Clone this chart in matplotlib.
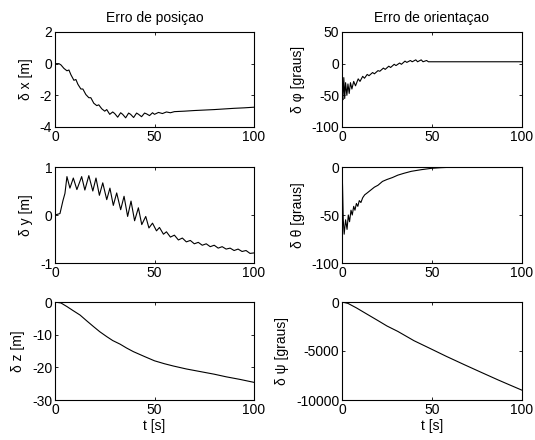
import matplotlib
matplotlib.use("Agg")
import matplotlib.pyplot as plt

plt.rcParams["font.family"] = ["Liberation Sans", "DejaVu Sans"]
plt.rcParams["axes.unicode_minus"] = False

# erro de posição
t_x = [0, 2, 3, 4.5, 6, 7, 8, 9.5, 10.5, 11.5, 13, 14, 15.5, 17, 18, 19.5, 21, 22,
       23.5, 25, 26, 27.5, 29, 30, 31.5, 33, 34, 35.5, 37, 38, 39.5, 41, 42, 43.5,
       45, 46, 47.5, 49, 50, 52, 54, 56, 58, 60, 65, 70, 75, 80, 85, 90, 95, 100]
dx = [0.0, 0.0, -0.08, -0.3, -0.45, -0.4, -0.7, -1.05, -1.0, -1.3, -1.6, -1.6,
      -1.95, -2.15, -2.15, -2.5, -2.65, -2.6, -2.85, -3.0, -2.9, -3.2, -3.05,
      -3.15, -3.38, -3.1, -3.2, -3.42, -3.12, -3.2, -3.4, -3.12, -3.2, -3.35,
      -3.12, -3.17, -3.28, -3.1, -3.2, -3.08, -3.15, -3.05, -3.1, -3.03, -3.0,
      -2.96, -2.93, -2.9, -2.86, -2.82, -2.79, -2.75]

t_y = [0, 2.5, 4, 5, 6, 7.5, 9.2, 11, 13.4, 15, 17, 19, 20.6, 22.3, 24, 26,
       27.6, 29.3, 31, 33, 34.7, 36.5, 38.2, 40, 41.9, 43.6, 45.6, 47.2, 49,
       51, 52.5, 54.5, 56, 58, 60, 62, 64, 66, 68, 70, 72, 74, 76, 78, 80, 82,
       84, 86, 88, 90, 92, 94, 96, 98, 100]
dy = [0.0, 0.03, 0.3, 0.45, 0.8, 0.56, 0.77, 0.53, 0.8, 0.52, 0.82, 0.5, 0.77,
      0.41, 0.67, 0.32, 0.56, 0.2, 0.46, 0.11, 0.39, -0.03, 0.29, -0.12, 0.15,
      -0.2, -0.03, -0.27, -0.17, -0.33, -0.26, -0.4, -0.35, -0.46, -0.42, -0.52,
      -0.48, -0.56, -0.53, -0.6, -0.57, -0.63, -0.6, -0.66, -0.63, -0.69, -0.66,
      -0.71, -0.69, -0.74, -0.71, -0.76, -0.74, -0.8, -0.79]

t_z = [0, 3, 6, 9, 12.6, 16, 19.3, 22.5, 26, 29, 32.7, 36, 39.4, 45, 50, 55,
       59.5, 66, 73, 80, 86, 93, 100]
dz = [0.0, -0.3, -1.4, -2.6, -4.0, -5.8, -7.5, -9.1, -10.6, -11.8, -12.9, -14.1,
      -15.2, -16.7, -18.0, -18.9, -19.6, -20.5, -21.3, -22.1, -22.9, -23.7, -24.6]

# erro de orientação
t_phi = [0, 0.5, 1, 1.5, 2, 2.7, 3.3, 4, 4.7, 5.5, 6.5, 7.5, 9, 10, 11.5, 12.5,
         14, 15, 17, 18, 20, 21, 23, 24, 26, 27, 29, 30, 32, 33, 35, 36, 38, 39,
         41, 42, 44, 45, 47, 48, 60, 80, 100]
dphi = [-50, -57, -22, -55, -30, -50, -32, -47, -30, -40, -28, -35, -24, -28,
        -20, -23, -17, -19, -14, -16, -11, -12, -7, -9, -4, -6, -1, -3, 1, -1, 4,
        2, 5, 3, 6, 3, 6, 3, 5, 3, 3, 3, 3]

t_theta = [0, 0.3, 0.7, 1.2, 2, 2.8, 3.5, 4.2, 5, 5.7, 6.5, 7.2, 8, 8.8, 9.6,
           10.5, 11.5, 12.6, 14, 16, 18, 20, 22.5, 25, 28, 31, 34.5, 38.5, 44,
           49.6, 55, 60, 70, 80, 100]
dtheta = [0, -20, -55, -70, -55, -65, -50, -57, -45, -50, -41, -45, -38, -41,
          -35, -37, -32, -29, -27, -24, -21, -19, -15, -13, -11, -8.5, -6.5,
          -4.5, -2.8, -1.4, -0.7, -0.3, -0.1, 0, 0]

t_psi = [0, 3.3, 8, 12.6, 20, 25, 31, 40, 49.6, 58, 68, 77, 86.7, 93, 100]
dpsi = [0, -140, -600, -1100, -1900, -2450, -3000, -3950, -4800, -5550, -6400,
        -7150, -7950, -8450, -9000]

# posições dos eixos em pixels (esq, topo, dir, base)
W, H = 535, 440
cols = [(55, 254), (342, 522)]
rows = [(32, 127), (167, 263), (302, 400)]
FS = 10

series = [
    [(t_x, dx, "δ x [m]", (-4, 2), [-4, -2, 0, 2]),
     (t_y, dy, "δ y [m]", (-1, 1), [-1, 0, 1]),
     (t_z, dz, "δ z [m]", (-30, 0), [-30, -20, -10, 0])],
    [(t_phi, dphi, "δ φ [graus]", (-100, 50), [-100, -50, 0, 50]),
     (t_theta, dtheta, "δ θ [graus]", (-100, 0), [-100, -50, 0]),
     (t_psi, dpsi, "δ ψ [graus]", (-10000, 0), [-10000, -5000, 0])],
]
titles = ["Erro de posiçao", "Erro de orientaçao"]

fig = plt.figure(figsize=(W / 100, H / 100), dpi=100)
for c, (x0, x1) in enumerate(cols):
    for r, (y0, y1) in enumerate(rows):
        t, v, lab, ylim, yt = series[c][r]
        ax = fig.add_axes([x0 / W, 1 - y1 / H, (x1 - x0) / W, (y1 - y0) / H])
        ax.plot(t, v, color="black", linewidth=0.8)
        ax.set_xlim(0, 100)
        ax.set_ylim(*ylim)
        ax.set_xticks([0, 50, 100])
        ax.set_yticks(yt)
        ax.tick_params(direction="in", top=True, right=True, length=2.5,
                       width=0.6, labelsize=FS)
        ax.tick_params(axis="x", pad=2.5)
        ax.tick_params(axis="y", pad=2)
        for s in ax.spines.values():
            s.set_linewidth(0.8)
        ax.set_ylabel(lab, fontsize=FS, labelpad=5)
        if r == 0:
            ax.set_title(titles[c], fontsize=FS, pad=7)
        if r == 2:
            ax.set_xlabel("t [s]", fontsize=FS, labelpad=1)

fig.savefig("out.png", dpi=100, facecolor="white")
